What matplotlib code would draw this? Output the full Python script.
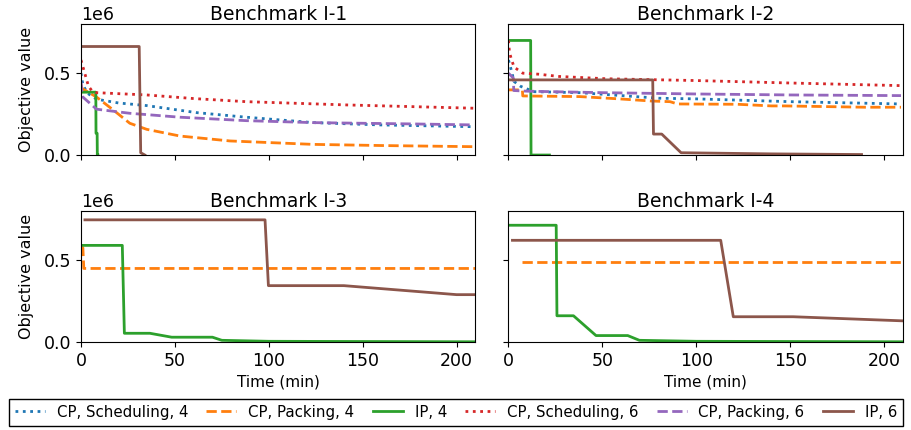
import matplotlib
matplotlib.use("Agg")
import matplotlib.pyplot as plt

titles = ["Benchmark I-1", "Benchmark I-2", "Benchmark I-3", "Benchmark I-4"]
labels = ["CP, Scheduling, 4", "CP, Packing, 4", "IP, 4",
          "CP, Scheduling, 6", "CP, Packing, 6", "IP, 6"]

# ---- Benchmark I-1 ----
i1_sched4_t = [0, 1, 3.5, 8.3, 20, 35, 61.6, 88, 123.7, 159, 209]
i1_sched4_v = [0.50e6, 0.428e6, 0.377e6, 0.341e6, 0.318e6, 0.302e6, 0.259e6, 0.231e6, 0.198e6, 0.184e6, 0.173e6]
i1_pack4_t = [0, 0.4, 8.3, 17.2, 26, 35, 52.7, 79.3, 123.7, 160, 209]
i1_pack4_v = [0.43e6, 0.408e6, 0.354e6, 0.275e6, 0.194e6, 0.157e6, 0.116e6, 0.086e6, 0.065e6, 0.058e6, 0.051e6]
i1_ip4_t = [1, 7.9, 8.0, 8.6, 8.7, 9.0]
i1_ip4_v = [0.384e6, 0.384e6, 0.133e6, 0.133e6, 0.0, 0.0]
i1_sched6_t = [0, 1, 2, 4, 6, 8.3, 35, 60, 88, 141.5, 209]
i1_sched6_v = [0.58e6, 0.54e6, 0.50e6, 0.42e6, 0.39e6, 0.381e6, 0.367e6, 0.345e6, 0.326e6, 0.306e6, 0.286e6]
i1_pack6_t = [0, 0.5, 1, 8.3, 26, 52.7, 88, 123.7, 176.8, 209]
i1_pack6_v = [0.45e6, 0.38e6, 0.354e6, 0.28e6, 0.255e6, 0.231e6, 0.21e6, 0.198e6, 0.19e6, 0.184e6]
i1_ip6_t = [1, 31.0, 31.8, 34]
i1_ip6_v = [0.663e6, 0.663e6, 0.014e6, 0.0]

# ---- Benchmark I-2 ----
i2_sched4_t = [0, 1, 3, 6.4, 13.5, 38, 80, 100, 150, 209]
i2_sched4_v = [0.58e6, 0.54e6, 0.449e6, 0.42e6, 0.387e6, 0.381e6, 0.347e6, 0.343e6, 0.326e6, 0.312e6]
i2_pack4_t = [0, 7.4, 7.6, 38, 59, 76, 86, 90, 122, 140, 147, 190, 209]
i2_pack4_v = [0.398e6, 0.398e6, 0.361e6, 0.357e6, 0.343e6, 0.33e6, 0.326e6, 0.312e6, 0.31e6, 0.30e6, 0.30e6, 0.292e6, 0.292e6]
i2_ip4_t = [0, 11.8, 12.0, 21.8]
i2_ip4_v = [0.70e6, 0.70e6, 0.0, 0.0]
i2_sched6_t = [0, 0.5, 1.5, 3, 7.6, 15.8, 27, 52, 100, 150, 209]
i2_sched6_v = [0.70e6, 0.63e6, 0.586e6, 0.537e6, 0.50e6, 0.494e6, 0.48e6, 0.466e6, 0.455e6, 0.44e6, 0.424e6]
i2_pack6_t = [0, 2.6, 2.8, 10, 50, 100, 150, 209]
i2_pack6_v = [0.50e6, 0.47e6, 0.394e6, 0.39e6, 0.381e6, 0.373e6, 0.367e6, 0.363e6]
i2_ip6_t = [0.9, 76.8, 77.2, 81.6, 91.9, 140, 188]
i2_ip6_v = [0.459e6, 0.459e6, 0.128e6, 0.128e6, 0.014e6, 0.007e6, 0.003e6]

# ---- Benchmark I-3 ----
i3_pack4_t = [0, 1.0, 1.5, 210]
i3_pack4_v = [0.578e6, 0.578e6, 0.451e6, 0.451e6]
i3_ip4_t = [0, 22, 23.1, 36.7, 48.3, 70, 75, 100, 210]
i3_ip4_v = [0.592e6, 0.592e6, 0.055e6, 0.055e6, 0.031e6, 0.031e6, 0.012e6, 0.006e6, 0.003e6]
i3_ip6_t = [2.1, 98, 99.8, 140, 200, 210]
i3_ip6_v = [0.748e6, 0.748e6, 0.346e6, 0.346e6, 0.291e6, 0.291e6]

# ---- Benchmark I-4 ----
i4_pack4_t = [7.4, 210]
i4_pack4_v = [0.488e6, 0.488e6]
i4_ip4_t = [0, 25.4, 25.8, 34.6, 46.6, 63.5, 69.7, 100, 210]
i4_ip4_v = [0.715e6, 0.715e6, 0.162e6, 0.162e6, 0.041e6, 0.041e6, 0.012e6, 0.006e6, 0.003e6]
i4_ip6_t = [2.1, 113, 119.7, 151.6, 209.8]
i4_ip6_v = [0.623e6, 0.623e6, 0.156e6, 0.156e6, 0.131e6]

colors = ["tab:blue", "tab:orange", "tab:green", "tab:red", "tab:purple", "tab:brown"]
styles = [":", "--", "-", ":", "--", "-"]

panels = [
    {0: (i1_sched4_t, i1_sched4_v), 1: (i1_pack4_t, i1_pack4_v), 2: (i1_ip4_t, i1_ip4_v),
     3: (i1_sched6_t, i1_sched6_v), 4: (i1_pack6_t, i1_pack6_v), 5: (i1_ip6_t, i1_ip6_v)},
    {0: (i2_sched4_t, i2_sched4_v), 1: (i2_pack4_t, i2_pack4_v), 2: (i2_ip4_t, i2_ip4_v),
     3: (i2_sched6_t, i2_sched6_v), 4: (i2_pack6_t, i2_pack6_v), 5: (i2_ip6_t, i2_ip6_v)},
    {1: (i3_pack4_t, i3_pack4_v), 2: (i3_ip4_t, i3_ip4_v), 5: (i3_ip6_t, i3_ip6_v)},
    {1: (i4_pack4_t, i4_pack4_v), 2: (i4_ip4_t, i4_ip4_v), 5: (i4_ip6_t, i4_ip6_v)},
]

fig, axes = plt.subplots(2, 2, figsize=(9.12, 4.3), dpi=100, sharex=True, sharey=True)
fig.subplots_adjust(left=0.0888, right=0.990, top=0.944, bottom=0.204, wspace=0.084, hspace=0.43)

handles = {}
for k, ax in enumerate(axes.flat):
    for idx in [0, 1, 2, 3, 4, 5]:
        if idx in panels[k]:
            t, v = panels[k][idx]
            ln, = ax.plot(t, v, color=colors[idx], linestyle=styles[idx], linewidth=2)
            handles[idx] = ln
    ax.set_title(titles[k], fontsize=13.5, pad=3)
    ax.tick_params(labelsize=12.5)
    ax.ticklabel_format(axis="y", style="sci", scilimits=(6, 6))
    ax.yaxis.get_offset_text().set_fontsize(12.5)

axes[0, 0].set_xlim(0, 210)
axes[0, 0].set_ylim(0, 0.8e6)
axes[0, 0].set_xticks([0, 50, 100, 150, 200])
axes[0, 0].set_yticks([0, 0.5e6])
for ax in axes[:, 0]:
    ax.set_ylabel("Objective value", fontsize=11.5, labelpad=7)
for ax in axes[1, :]:
    ax.set_xlabel("Time (min)", fontsize=11, labelpad=3)

leg = fig.legend([handles[i] for i in range(6)], labels, loc="lower center",
                 bbox_to_anchor=(0.5, 0.01), ncol=6, fontsize=10.8,
                 frameon=True, fancybox=False, edgecolor="black", framealpha=1,
                 columnspacing=1.2, handlelength=2.0, handletextpad=0.8, borderaxespad=0)
leg.get_frame().set_linewidth(1.0)

fig.savefig("out.png", dpi=100)
